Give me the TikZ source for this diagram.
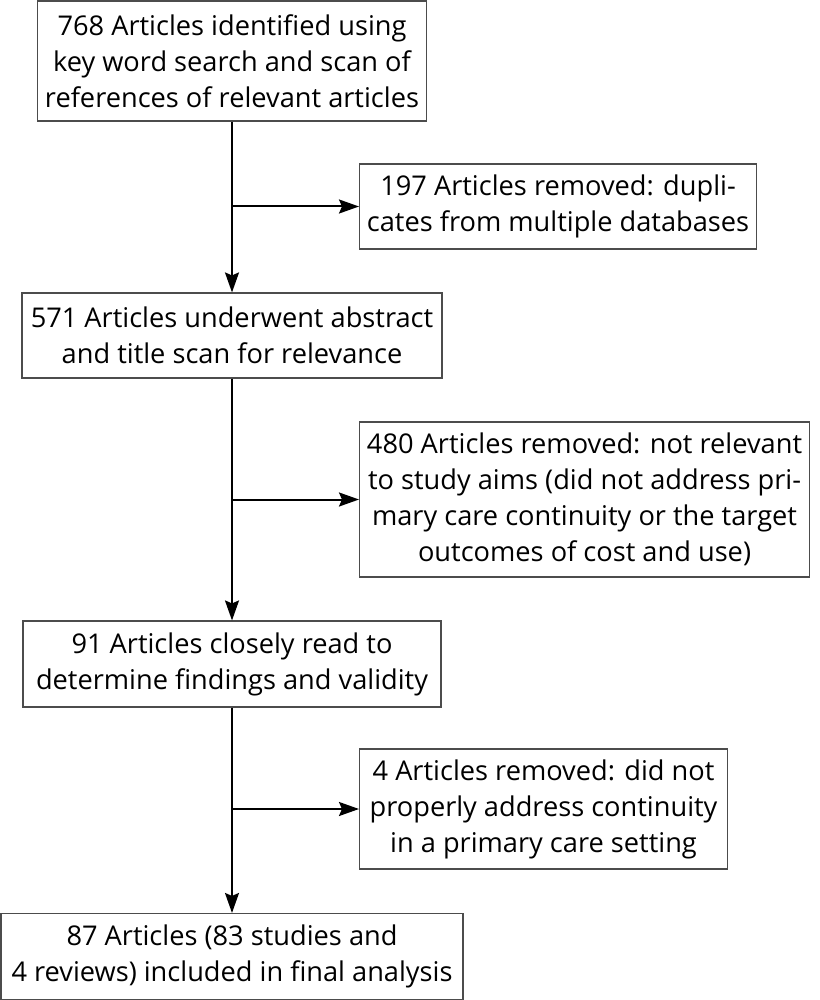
\documentclass[tikz,border=0pt]{standalone}
\usepackage{fontspec}
\setmainfont{Open Sans}
\usetikzlibrary{arrows.meta}

\begin{document}
\begin{tikzpicture}[
  x=1pt, y=-1pt,
  every node/.style={draw=black!70, line width=1.1pt, inner sep=0pt, align=center,
    font=\fontsize{27.2}{36}\selectfont},
  arrow/.style={-{Stealth[length=20pt, width=14pt, inset=3pt]}, line width=2pt}
]
\useasboundingbox (0,0) rectangle (819,1000);
\node[minimum width=389pt, minimum height=120pt] (found) at (232,61)
  {768 Articles identified using\\key word search and scan of\\references of relevant articles};
\node[node distance=274.5pt, below of=found, minimum width=420pt, minimum height=85pt] (screen)
  {571 Articles underwent abstract\\and title scan for relevance};
\node[node distance=328.5pt, below of=screen, minimum width=418pt, minimum height=86pt] (read)
  {91 Articles closely read to\\determine findings and validity};
\node[node distance=292.5pt, below of=read, minimum width=462pt, minimum height=86pt] (final)
  {87 Articles (83 studies and\\4 reviews) included in final analysis};
\node[anchor=west, minimum width=397pt, minimum height=85pt] (dupl) at (359,206.5)
  {197 Articles removed: dupli-\\cates from multiple databases};
\node[anchor=west, minimum width=450pt, minimum height=155pt] (irrel) at (359,499.5)
  {480 Articles removed: not relevant\\to study aims (did not address pri-\\mary care continuity or the target\\outcomes of cost and use)};
\node[anchor=west, minimum width=368pt, minimum height=120pt] (noaddr) at (359,809)
  {4 Articles removed: did not\\properly address continuity\\in a primary care setting};
\draw[arrow] (found) -- (screen);
\draw[arrow] (screen) -- (read);
\draw[arrow] (read) -- (final);
\draw[arrow] (found.south |- dupl.west) -- (dupl);
\draw[arrow] (screen.south |- irrel.west) -- (irrel);
\draw[arrow] (read.south |- noaddr.west) -- (noaddr);
\end{tikzpicture}
\end{document}
